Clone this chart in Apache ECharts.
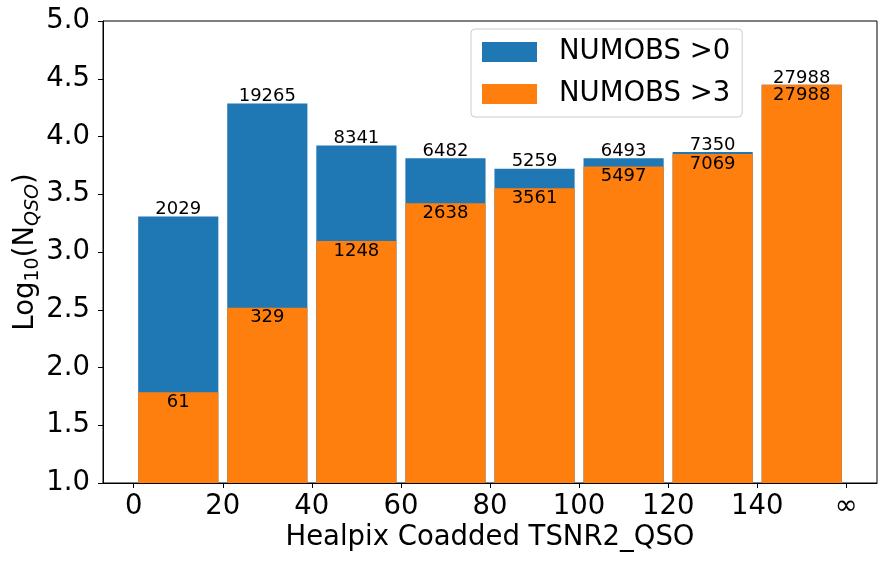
<!DOCTYPE html>
<html style="height: 100%">
<head>
    <meta charset="UTF-8">
    <title>Healpix Coadded TSNR2_QSO</title>
</head>
<body style="height: 100%; margin: 0; background: #fff">
    <div id="container" style="width: 887px; height: 565px"></div>

    <script src="https://cdn.jsdelivr.net/npm/echarts@6/dist/echarts.min.js"></script>

    <script type="text/javascript">
        // bins of TSNR2_QSO, the last one is open ended
        var binEdges = [0, 20, 40, 60, 80, 100, 120, 140, 160];
        var tickLabels = ['0', '20', '40', '60', '80', '100', '120', '140', '\u221e'];
        // number of QSOs per bin
        var countsObs0 = [2029, 19265, 8341, 6482, 5259, 6493, 7350, 27988];
        var countsObs3 = [61, 329, 1248, 2638, 3561, 5497, 7069, 27988];

        var FONT = '"DejaVu Sans", sans-serif';
        var Y_MIN = 1, Y_MAX = 5;

        var dom = document.getElementById('container');
        var myChart = echarts.init(dom);

        function buildData(counts) {
            var out = [];
            for (var i = 0; i < counts.length; i++) {
                out.push([binEdges[i], binEdges[i + 1], Math.log10(counts[i]), counts[i]]);
            }
            return out;
        }

        // labelInside: false -> count above the bar top, true -> just below it
        function barRenderer(color, labelInside) {
            return function (params, api) {
                var lo = api.value(0), hi = api.value(1);
                var v = api.value(2), n = api.value(3);
                var c = (lo + hi) / 2, w = (hi - lo) * 0.9;
                var p0 = api.coord([c - w / 2, v]);
                var p1 = api.coord([c + w / 2, Y_MIN]);
                var cx = api.coord([c, v])[0];
                return {
                    type: 'group',
                    children: [{
                        type: 'rect',
                        shape: {x: p0[0], y: p0[1], width: p1[0] - p0[0], height: p1[1] - p0[1]},
                        style: {fill: color}
                    }, {
                        type: 'text',
                        z2: 10,
                        style: {
                            text: String(n),
                            x: cx,
                            y: labelInside ? p0[1] + 1 : p0[1] + 2,
                            align: 'center',
                            verticalAlign: labelInside ? 'top' : 'bottom',
                            fill: '#000',
                            fontSize: 18,
                            fontFamily: FONT
                        }
                    }]
                };
            };
        }

        var option = {
            animation: false,
            textStyle: {fontFamily: FONT},
            grid: {
                left: 103, right: 10, top: 21, bottom: 82,
                outerBoundsMode: 'none',
                containLabel: false,
                show: true, borderColor: '#000', borderWidth: 1
            },
            legend: {
                orient: 'vertical',
                left: 471, top: 29,
                itemWidth: 55, itemHeight: 20, itemGap: 14,
                padding: [9, 12, 9, 11],
                icon: 'rect',
                backgroundColor: 'rgba(255,255,255,0.8)',
                borderColor: '#cccccc', borderWidth: 1, borderRadius: 4,
                textStyle: {fontSize: 27.5, color: '#000', fontFamily: FONT, padding: [0, 0, 0, 17]},
                data: ['NUMOBS >0', 'NUMOBS >3']
            },
            xAxis: {
                type: 'value',
                min: -6.9, max: 166.9,
                name: 'Healpix Coadded TSNR2_QSO',
                nameLocation: 'middle',
                nameGap: 41,
                nameMoveOverlap: false,
                nameTextStyle: {fontSize: 27.5, color: '#000', fontFamily: FONT},
                splitLine: {show: false},
                axisLine: {show: true, onZero: false, lineStyle: {color: '#000', width: 1}},
                axisTick: {show: true, length: 5, customValues: binEdges, lineStyle: {color: '#000'}},
                axisLabel: {
                    customValues: binEdges,
                    margin: 10,
                    fontSize: 27.5, color: '#000', fontFamily: FONT,
                    formatter: function (val) {
                        var i = binEdges.indexOf(val);
                        return i >= 0 ? tickLabels[i] : '';
                    }
                }
            },
            yAxis: {
                type: 'value',
                min: Y_MIN, max: Y_MAX, interval: 0.5,
                name: 'Log{sub|10}(N{subi|QSO})',
                nameLocation: 'middle',
                nameGap: 60,
                nameMoveOverlap: false,
                nameRotate: 90,
                nameTextStyle: {
                    fontSize: 27.5, color: '#000', fontFamily: FONT,
                    lineHeight: 34,
                    rich: {
                        sub: {fontSize: 19, fontFamily: FONT, color: '#000', lineHeight: 20, verticalAlign: 'bottom'},
                        subi: {fontSize: 19, fontFamily: FONT, fontStyle: 'italic', color: '#000', lineHeight: 20, verticalAlign: 'bottom'}
                    }
                },
                splitLine: {show: false},
                axisLine: {show: true, onZero: false, lineStyle: {color: '#000', width: 1}},
                axisTick: {show: true, length: 5, lineStyle: {color: '#000'}},
                axisLabel: {
                    margin: 13,
                    fontSize: 27.5, color: '#000', fontFamily: FONT,
                    formatter: function (val) { return val.toFixed(1); }
                }
            },
            series: [{
                name: 'NUMOBS >0',
                type: 'custom',
                clip: true,
                itemStyle: {color: '#1f77b4'},
                encode: {x: [0, 1], y: 2},
                renderItem: barRenderer('#1f77b4', false),
                data: buildData(countsObs0)
            }, {
                name: 'NUMOBS >3',
                type: 'custom',
                clip: true,
                itemStyle: {color: '#ff7f0e'},
                encode: {x: [0, 1], y: 2},
                renderItem: barRenderer('#ff7f0e', true),
                data: buildData(countsObs3)
            }]
        };

        myChart.setOption(option);
    </script>

</body>
</html>
